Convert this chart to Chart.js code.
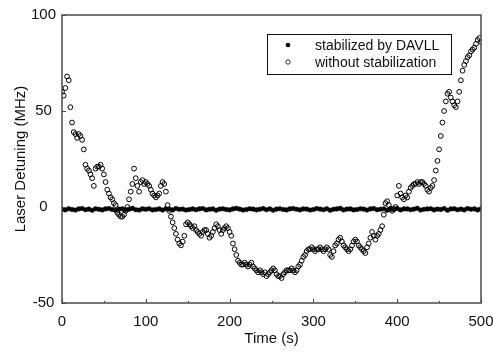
<!DOCTYPE html>
<html>
<head>
<meta charset="utf-8">
<script src="https://cdn.jsdelivr.net/npm/chart.js@4.4.1/dist/chart.umd.min.js"></script>
<style>
  html, body { margin: 0; padding: 0; background: #fff; }
  #wrap { width: 493px; height: 352px; }
</style>
</head>
<body>
<div id="wrap"><canvas id="detuning" width="493" height="352"></canvas></div>
<script>
'use strict';

// detuning with DAVLL lock, sampled every 4 s (MHz)
var lockedValues = [
  -1.2,-1.5,-0.9,-1.3,-1.6,-1.0,-0.8,-1.4,-1.1,-1.7,
  -0.9,-1.2,-1.5,-1.0,-0.8,-1.3,-1.7,-1.1,-1.0,-1.4,
  -1.2,-0.7,-1.4,-1.6,-1.0,-1.2,-0.9,-1.5,-1.3,-1.0,
  -1.6,-0.9,-1.1,-1.5,-0.8,-1.2,-1.1,-1.6,-1.3,-1.0,
  -1.4,-1.0,-0.8,-1.5,-1.2,-1.0,-1.7,-1.1,-0.9,-1.3,
  -1.5,-1.0,-0.7,-1.1,-1.6,-1.3,-0.9,-1.1,-1.5,-1.2,
  -0.8,-1.4,-1.0,-1.7,-1.1,-0.9,-1.3,-1.5,-1.0,-0.8,
  -1.2,-1.5,-1.0,-1.1,-1.6,-1.3,-0.8,-1.1,-1.4,-0.9,
  -1.7,-1.2,-1.0,-0.7,-1.5,-1.1,-1.0,-1.5,-1.3,-0.9,
  -1.1,-1.6,-1.0,-0.8,-1.4,-1.2,-0.9,-1.7,-1.1,-1.3,
  -0.8,-1.5,-1.0,-1.0,-1.4,-1.1,-0.7,-1.6,-1.2,-1.0,
  -0.9,-1.5,-1.1,-1.3,-0.8,-1.7,-1.0,-0.9,-1.4,-1.1,
  -1.5,-0.8,-1.2,-1.0,-1.5,-1.0
];
var lockedStep = 4;

// free running laser, sampled every 2 s (MHz)
var freeValues = [
  60,58,62,68,66,52,44,39,38,36,
  38,37,35,30,22,20,19,17,15,11,
  20,21,21,22,20,17,13,9,7,5,
  4,2,1,-3,-4,-5,-5,-4,-2,0,
  4,8,12,20,15,11,8,13,14,12,
  13,12,11,9,7,6,5,6,7,11,
  13,12,8,1,-2,-5,-8,-11,-14,-17,
  -19,-20,-18,-15,-9,-8,-9,-10,-11,-10,
  -12,-13,-14,-15,-13,-12,-12,-14,-16,-15,
  -13,-11,-9,-10,-12,-14,-12,-11,-10,-11,
  -13,-15,-19,-22,-25,-28,-29,-30,-30,-29,
  -30,-31,-30,-29,-31,-32,-33,-34,-33,-34,
  -35,-34,-36,-35,-34,-33,-32,-33,-35,-36,
  -36,-37,-35,-34,-33,-33,-33,-32,-33,-34,
  -33,-31,-30,-28,-26,-25,-23,-22,-22,-21,
  -22,-23,-22,-22,-21,-22,-23,-22,-21,-22,
  -25,-26,-23,-20,-19,-17,-16,-18,-20,-21,
  -22,-23,-22,-20,-18,-17,-18,-20,-21,-22,
  -23,-24,-21,-19,-16,-13,-15,-17,-15,-14,
  -12,-10,-4,2,3,1,-1,-2,-1,0,
  6,11,7,5,4,6,5,8,10,11,
  12,12,13,12,13,13,12,11,9,8,
  10,11,14,19,24,30,37,44,50,55,
  59,60,57,55,53,52,55,60,66,71,
  74,76,78,79,81,82,83,85,87,88,
  86
];
var freeStep = 2;

var seriesLabels = ['stabilized by DAVLL', 'without stabilization'];
var xMinorTicks = [50, 150, 250, 350, 450];

var FONT = 'Arial, "Liberation Sans", sans-serif';

var toPoints = function(values, step) {
  return values.map(function(v, i) { return {x: i * step, y: v}; });
};

// plot frame + inward ticks
var framePlugin = {
  id: 'frame',
  afterDraw: function(chart) {
    var ctx = chart.ctx, a = chart.chartArea;
    var xs = chart.scales.x, ys = chart.scales.y;
    ctx.save();
    ctx.strokeStyle = '#4a4a4a';
    ctx.lineWidth = 1.5;
    ctx.strokeRect(a.left, a.top, a.right - a.left, a.bottom - a.top);
    ctx.lineWidth = 1;
    ctx.beginPath();
    xs.ticks.forEach(function(t) {
      var px = Math.round(xs.getPixelForValue(t.value)) + 0.5;
      ctx.moveTo(px, a.bottom); ctx.lineTo(px, a.bottom - 4);
    });
    xMinorTicks.forEach(function(v) {
      var px = Math.round(xs.getPixelForValue(v)) + 0.5;
      ctx.moveTo(px, a.bottom); ctx.lineTo(px, a.bottom - 2);
    });
    ys.ticks.forEach(function(t) {
      var py = Math.round(ys.getPixelForValue(t.value)) + 0.5;
      ctx.moveTo(a.left, py); ctx.lineTo(a.left + 4, py);
    });
    ctx.stroke();
    ctx.restore();
  }
};

// boxed legend inside the plot
var boxLegendPlugin = {
  id: 'boxLegend',
  afterDraw: function(chart) {
    var ctx = chart.ctx;
    var left = 267, top = 34, w = 184, h = 40;
    ctx.save();
    ctx.fillStyle = '#fff';
    ctx.fillRect(left, top, w, h);
    ctx.strokeStyle = '#111';
    ctx.lineWidth = 1;
    ctx.strokeRect(left + 0.5, top + 0.5, w, h);
    ctx.font = '14px ' + FONT;
    ctx.textBaseline = 'middle';
    chart.data.datasets.forEach(function(ds, i) {
      var cy = top + 11 + i * 17;
      ctx.beginPath();
      ctx.arc(left + 21, cy, i === 0 ? 2.3 : 2.2, 0, Math.PI * 2);
      if (i === 0) { ctx.fillStyle = '#000'; ctx.fill(); }
      else { ctx.strokeStyle = '#000'; ctx.lineWidth = 0.8; ctx.stroke(); }
      ctx.fillStyle = '#111';
      ctx.fillText(ds.label, left + 48, cy + 1);
    });
    ctx.restore();
  }
};

var ctx = document.getElementById('detuning').getContext('2d');
var chart = new Chart(ctx, {
  type: 'scatter',
  data: {
    datasets: [
      {
        label: seriesLabels[0],
        data: toPoints(lockedValues, lockedStep),
        pointRadius: 2.3,
        pointBackgroundColor: '#000',
        pointBorderColor: '#000',
        pointBorderWidth: 0.5
      },
      {
        label: seriesLabels[1],
        data: toPoints(freeValues, freeStep),
        pointRadius: 2.4,
        pointBackgroundColor: 'rgba(0,0,0,0)',
        pointBorderColor: '#000',
        pointBorderWidth: 1
      }
    ]
  },
  options: {
    responsive: false,
    animation: false,
    layout: {padding: {top: 15, right: 0, left: 0, bottom: 0}},
    plugins: {legend: {display: false}, tooltip: {enabled: false}},
    scales: {
      x: {
        type: 'linear',
        min: 0, max: 500,
        afterFit: function(scale) {
          scale.height = 49;
          scale.paddingLeft = 0;
          scale.paddingRight = 12;
        },
        border: {display: false},
        grid: {display: false, drawTicks: false},
        ticks: {stepSize: 100, padding: 10, color: '#111', font: {family: FONT, size: 15}},
        title: {display: true, text: 'Time (s)', color: '#111', padding: {top: 0, bottom: 4},
                font: {family: FONT, size: 15}}
      },
      y: {
        type: 'linear',
        min: -50, max: 100,
        afterFit: function(scale) { scale.width = 62; },
        border: {display: false},
        grid: {display: false, drawTicks: false},
        ticks: {stepSize: 50, padding: 6, crossAlign: 'center', color: '#111',
                font: {family: FONT, size: 15}},
        title: {display: true, text: 'Laser Detuning (MHz)', color: '#111', padding: {top: 12, bottom: 0},
                font: {family: FONT, size: 15}}
      }
    }
  },
  plugins: [framePlugin, boxLegendPlugin]
});
</script>
</body>
</html>
